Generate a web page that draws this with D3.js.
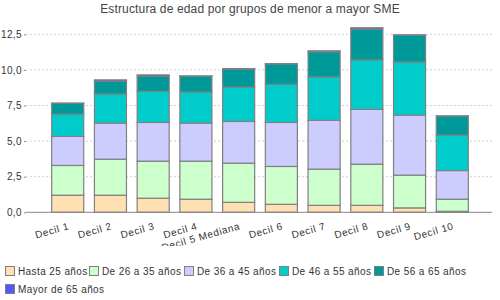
<!DOCTYPE html>
<html>
<head>
<meta charset="utf-8">
<script src="https://cdn.jsdelivr.net/npm/d3@7"></script>
<style>
  body { margin: 0; background: #fff; }
  svg { display: block; font-family: "Liberation Sans", Arial, sans-serif; }
</style>
</head>
<body>
<svg width="500" height="300"></svg>
<script>
// Data.
const categories = ["Decil 1", "Decil 2", "Decil 3", "Decil 4", "Decil 5 Mediana",
                    "Decil 6", "Decil 7", "Decil 8", "Decil 9", "Decil 10"];
const seriesNames = ["Hasta 25 años", "De 26 a 35 años", "De 36 a 45 años",
                     "De 46 a 55 años", "De 56 a 65 años", "Mayor de 65 años"];
const hasta25 = [1.20, 1.20, 0.99, 0.92, 0.70, 0.56, 0.49, 0.49, 0.31, 0.07];
const de26a35 = [2.09, 2.53, 2.60, 2.67, 2.75, 2.66, 2.54, 2.89, 2.30, 0.85];
const de36a45 = [2.04, 2.54, 2.72, 2.68, 2.93, 3.09, 3.43, 3.85, 4.22, 2.01];
const de46a55 = [1.57, 2.04, 2.19, 2.18, 2.42, 2.68, 3.05, 3.47, 3.73, 2.49];
const de56a65 = [0.75, 0.89, 1.05, 1.10, 1.27, 1.43, 1.76, 2.16, 1.88, 1.34];
const mayor65 = [0.02, 0.10, 0.10, 0.03, 0.02, 0.02, 0.07, 0.10, 0.02, 0.01];
const yTicks = [0, 2.5, 5, 7.5, 10, 12.5];

const colors = ["#ffe0b2", "#ccffcc", "#ccccff", "#00cccc", "#009999", "#5555ff"];

const svg = d3.select("svg");

// build rows for the stack
const allSeries = [hasta25, de26a35, de36a45, de46a55, de56a65, mayor65];
const rows = categories.map((c, i) => {
    const r = { cat: c };
    seriesNames.forEach((s, k) => r[s] = allSeries[k][i]);
    return r;
});
const stacked = d3.stack().keys(seriesNames)(rows);

// Scales
const plotLeft = 26, plotRight = 492;
const xScale = d3.scaleBand()
                 .domain(categories)
                 .range([46.35, 473.65])
                 .paddingInner(0.25)
                 .paddingOuter(0.125);
const yScale = d3.scaleLinear()
                 .domain([0, 12.5])
                 .range([212.3, 34.3]);

// Title
svg.append("text")
   .attr("x", 250)
   .attr("y", 13)
   .attr("text-anchor", "middle")
   .style("font-size", "12px")
   .style("letter-spacing", "0.15px")
   .style("fill", "#444")
   .text("Estructura de edad por grupos de menor a mayor SME");

// Grid lines
svg.append("g")
   .selectAll("line")
   .data(yTicks.filter(d => d > 0))
   .join("line")
   .attr("x1", plotLeft)
   .attr("x2", plotRight)
   .attr("y1", d => yScale(d))
   .attr("y2", d => yScale(d))
   .attr("stroke", "#d0d0d0")
   .attr("stroke-dasharray", "2,2");

// Y axis (no domain line)
const yAxis = svg.append("g")
   .attr("class", "y-axis")
   .attr("transform", `translate(${plotLeft},0)`)
   .call(d3.axisLeft(yScale).tickValues(yTicks).tickSize(2).tickPadding(2)
           .tickFormat(d => d3.format(".1f")(d).replace(".", ",")));
yAxis.select(".domain").remove();
yAxis.selectAll("line").attr("stroke", "#888");
yAxis.selectAll("text")
     .style("font-size", "10px")
     .style("letter-spacing", "0.4px")
     .style("font-family", "Liberation Sans, Arial, sans-serif")
     .style("fill", "#333");

// Bars
svg.append("g")
   .selectAll("g")
   .data(stacked)
   .join("g")
   .attr("fill", (d, i) => colors[i])
   .selectAll("rect")
   .data(d => d)
   .join("rect")
   .attr("x", d => xScale(d.data.cat))
   .attr("width", xScale.bandwidth())
   .attr("y", d => yScale(d[1]))
   .attr("height", d => yScale(d[0]) - yScale(d[1]))
   .attr("stroke", "#808080")
   .attr("stroke-width", 1.2);

// X axis line
svg.append("line")
   .attr("x1", plotLeft)
   .attr("x2", plotRight)
   .attr("y1", yScale(0))
   .attr("y2", yScale(0))
   .attr("stroke", "#888")
   .attr("stroke-width", 1);

// Category labels, rotated
svg.append("defs").append("clipPath")
   .attr("id", "label-clip")
   .append("rect")
   .attr("x", 0).attr("y", 214).attr("width", 500).attr("height", 32);

svg.append("g")
   .attr("clip-path", "url(#label-clip)")
   .selectAll("text")
   .data(categories)
   .join("text")
   .attr("transform", d => `translate(${xScale(d) + xScale.bandwidth() / 2 + 2},229) rotate(-16)`)
   .attr("text-anchor", "end")
   .style("font-size", "10px")
   .style("letter-spacing", "0.6px")
   .style("fill", "#333")
   .text(d => d);

// Legend
const legendPos = [[5, 271], [89, 271], [184, 271], [279, 271], [374, 271], [5, 289]];
const legend = svg.append("g")
   .selectAll("g")
   .data(seriesNames)
   .join("g")
   .attr("transform", (d, i) => `translate(${legendPos[i][0]},${legendPos[i][1]})`);
legend.append("rect")
      .attr("x", 0.5)
      .attr("y", -4.5)
      .attr("width", 9)
      .attr("height", 9)
      .attr("fill", (d, i) => colors[i])
      .attr("stroke", "#808080");
legend.append("text")
      .attr("x", 13)
      .attr("y", 4)
      .style("font-size", "10px")
      .style("letter-spacing", "0.4px")
      .style("fill", "#333")
      .text(d => d);
</script>
</body>
</html>
